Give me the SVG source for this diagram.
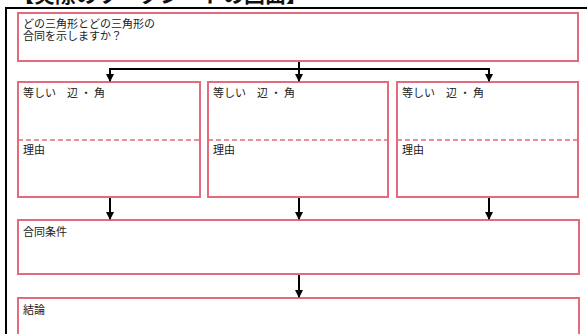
<svg xmlns="http://www.w3.org/2000/svg" width="587" height="334" viewBox="0 0 587 334">
<style>
.box{fill:#fff;stroke:#e46b7b;stroke-width:2}
.dash{stroke:#e46b7b;stroke-width:1.5;stroke-dasharray:5 3;fill:none}
.t{font-family:"Noto Sans CJK JP","Noto Sans",sans-serif;font-size:11px;fill:#222}
.title{font-family:"Noto Sans CJK JP","Noto Sans",sans-serif;font-size:21px;font-weight:bold;fill:#111}
.c{stroke:#000;stroke-width:2;fill:none}
</style>
<defs>
<marker id="ah" markerWidth="8" markerHeight="8" refX="7" refY="4" orient="auto" markerUnits="userSpaceOnUse">
<path d="M0,0 L8,4 L0,8 Z" fill="#000"/>
</marker>
</defs>
<rect width="587" height="334" fill="#fff"/>
<text class="title" x="13" y="1.5">【実際のワークシートの画面】</text>
<path d="M6,334 V8 H587" stroke="#000" stroke-width="2" fill="none"/>
<g id="q">
<rect class="box" x="18" y="13" width="560" height="48"/>
<text class="t" x="23" y="27.5">どの三角形とどの三角形の</text>
<text class="t" x="23" y="40">合同を示しますか？</text>
</g>
<g id="b1">
<rect class="box" x="18" y="82" width="182" height="115"/>
<line class="dash" x1="18" y1="140" x2="200" y2="140"/>
<text class="t" x="23" y="96.5" xml:space="preserve">等しい　辺 ・ 角</text>
<text class="t" x="23" y="154">理由</text>
</g>
<g id="b2">
<rect class="box" x="208" y="82" width="180" height="115"/>
<line class="dash" x1="208" y1="140" x2="388" y2="140"/>
<text class="t" x="213" y="96.5" xml:space="preserve">等しい　辺 ・ 角</text>
<text class="t" x="213" y="154">理由</text>
</g>
<g id="b3">
<rect class="box" x="397" y="82" width="181" height="115"/>
<line class="dash" x1="397" y1="140" x2="578" y2="140"/>
<text class="t" x="402" y="96.5" xml:space="preserve">等しい　辺 ・ 角</text>
<text class="t" x="402" y="154">理由</text>
</g>
<g id="cond">
<rect class="box" x="18" y="220" width="561" height="54"/>
<text class="t" x="23" y="235.5">合同条件</text>
</g>
<g id="concl">
<rect class="box" x="18" y="298" width="561" height="50"/>
<text class="t" x="23" y="313.5">結論</text>
</g>
<g id="connectors">
<line class="c" x1="299" y1="62" x2="299" y2="69"/>
<line class="c" x1="109" y1="69" x2="490" y2="69"/>
<line class="c" x1="110" y1="69" x2="110" y2="81" marker-end="url(#ah)"/>
<line class="c" x1="299" y1="69" x2="299" y2="81" marker-end="url(#ah)"/>
<line class="c" x1="489" y1="69" x2="489" y2="81" marker-end="url(#ah)"/>
<line class="c" x1="110" y1="198" x2="110" y2="219" marker-end="url(#ah)"/>
<line class="c" x1="299" y1="198" x2="299" y2="219" marker-end="url(#ah)"/>
<line class="c" x1="489" y1="198" x2="489" y2="219" marker-end="url(#ah)"/>
<line class="c" x1="299" y1="275" x2="299" y2="297" marker-end="url(#ah)"/>
</g>
</svg>
